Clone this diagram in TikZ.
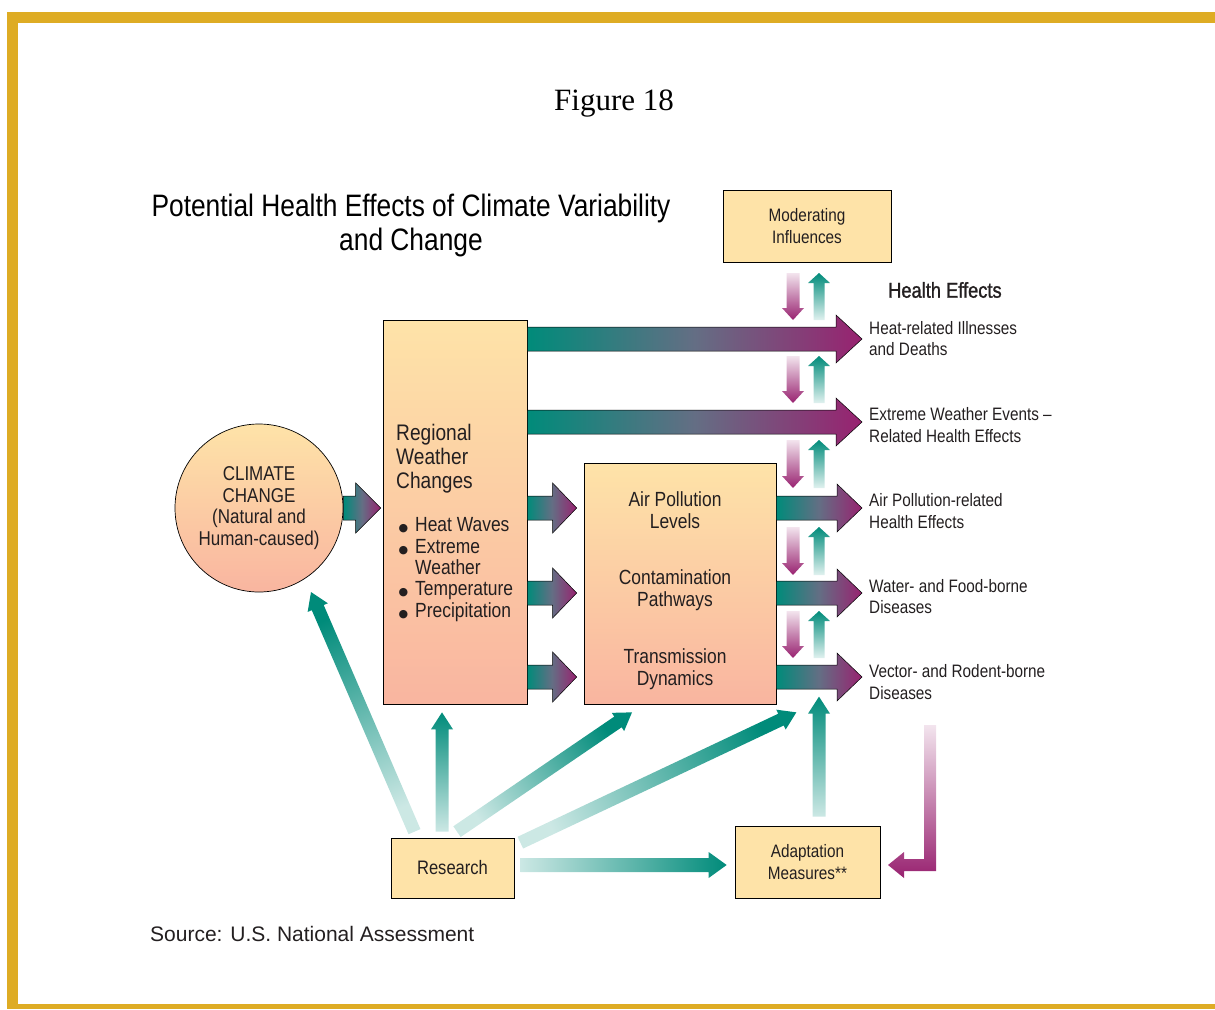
\documentclass[tikz,border=0pt]{standalone}
\usepackage{fontspec}
\setmainfont{Liberation Sans}
\newfontfamily\condsans[FakeStretch=0.85]{Liberation Sans}
\newfontfamily\condmedium[FakeStretch=0.85,FakeBold=1.2]{Liberation Sans}
\newfontfamily\capserif{Liberation Serif}
\newfontfamily\dotfont{DejaVu Sans}
\usetikzlibrary{calc,positioning}

\definecolor{framegold}{RGB}{222,172,36}
\definecolor{boxyellow}{RGB}{254,227,168}
\definecolor{boxsalmon}{RGB}{249,181,160}
\definecolor{arrowteal}{RGB}{0,139,122}
\definecolor{arrowplum}{RGB}{152,34,112}
\definecolor{flowslate}{RGB}{100,110,132}
\definecolor{textgrey}{RGB}{35,31,32}

% block arrow: [style]{tail}{tip}{half shaft}{head length}{half head}
\newcommand{\fatarrow}[6][]{%
  \coordinate (fa-a) at (#2);
  \coordinate (fa-b) at (#3);
  \coordinate (fa-c) at ($(fa-b)!#5!(fa-a)$);
  \path[#1] ($(fa-a)!#4!90:(fa-b)$) -- ($(fa-c)!#4!-90:(fa-a)$)
    -- ($(fa-c)!#6!-90:(fa-a)$) -- (fa-b) -- ($(fa-c)!#6!90:(fa-a)$)
    -- ($(fa-c)!#4!90:(fa-a)$) -- ($(fa-a)!#4!-90:(fa-b)$) -- cycle;
}
\newcommand{\listdot}{\makebox[17pt][l]{\hspace{0.5pt}\dotfont\fontsize{11}{0}\selectfont ●}}

\tikzset{
  tanbox/.style={draw=black, line width=0.7pt, fill=boxyellow, align=center, inner sep=0pt,
    text=textgrey, font=\condsans\fontsize{18}{21.5}\selectfont},
  peachbox/.style={draw=black, line width=0.7pt, top color=boxyellow, bottom color=boxsalmon, inner sep=0pt},
  midtext/.style={align=center, inner sep=0pt, text=textgrey, font=\condsans\fontsize{20.5}{22}\selectfont},
  effect/.style={anchor=west, align=left, inner sep=0pt, text=textgrey, font=\condsans\fontsize{18}{21.5}\selectfont},
  flow/.style={draw=black, line width=0.5pt, left color=arrowteal, right color=arrowplum, middle color=flowslate},
  feedup/.style={top color=arrowteal, bottom color=arrowteal!12},
  feeddown/.style={top color=arrowplum!12, bottom color=arrowplum},
  studyarrow/.style={top color=arrowteal, bottom color=arrowteal!20, shading angle=#1},
  studyarrow/.default=0
}

\begin{document}
\begin{tikzpicture}[x=1pt, y=-1pt]
  \useasboundingbox (0,0) rectangle (1215,1009);

  % gold frame
  \fill[framegold] (7,12) rectangle (18,1009);
  \fill[framegold] (7,12) rectangle (1215,23);
  \fill[framegold] (7,1004) rectangle (1215,1009);

  % titles
  \node (fig) at (614,104) {\capserif\fontsize{31}{34}\selectfont Figure 18};
  \node[align=center, font=\condsans\fontsize{31}{34}\selectfont] (title) at (411,225)
    {Potential Health Effects of Climate Variability\\and Change};

  % boxes
  \node[tanbox, minimum width=168pt, minimum height=72pt] (moder) at (807,226) {Moderating\\Influences};
  \node[peachbox, circle, minimum size=168pt, align=center, text=textgrey,
    font=\condsans\fontsize{20}{21.5}\selectfont] (climate) at (259,508)
    {CLIMATE\\CHANGE\\(Natural and\\Human-caused)};
  \node[peachbox, minimum width=144pt, minimum height=384pt] (rwc) at (455,512) {};
  \node[peachbox, minimum width=192pt, minimum height=241pt] (mid) at (680,583.5) {};
  \node[tanbox, font=\condsans\fontsize{19.5}{22}\selectfont, minimum width=123pt, minimum height=60pt]
    (research) at (452.5,868) {Research};
  \node[tanbox, minimum width=145pt, minimum height=72pt] (adapt) at (807.5,862) {Adaptation\\Measures**};

  % box texts
  \node[anchor=west, align=left, inner sep=0pt, text=textgrey, font=\condsans\fontsize{22.5}{24}\selectfont]
    (rwchead) at (396,459) {Regional\\Weather\\Changes};
  \node[anchor=west, align=left, inner sep=0pt, text=textgrey, font=\condsans\fontsize{20.5}{21.3}\selectfont]
    (rwclist) at (398,569.5) {\listdot Heat Waves\\
      \listdot Extreme\\
      \hspace*{17pt}Weather\\
      \listdot Temperature\\
      \listdot Precipitation};
  \node[midtext] (airlev) at (675,510) {Air Pollution\\Levels};
  \node[midtext] (contam) at (675,590) {Contamination\\Pathways};
  \node[midtext] (transm) at (675,669.5) {Transmission\\Dynamics};

  % health effects
  \node[anchor=west, inner sep=0pt, text=textgrey, font=\condmedium\fontsize{21.5}{23}\selectfont] (healthfx) at (888,290) {Health Effects};
  \node[effect] (heat) at (869,338.5) {Heat-related Illnesses\\and Deaths};
  \node[effect] (extreme) at (869,425) {Extreme Weather Events \textendash\\Related Health Effects};
  \node[effect] (airfx) at (869,511) {Air Pollution-related\\Health Effects};
  \node[effect] (water) at (869,596.5) {Water- and Food-borne\\Diseases};
  \node[effect] (vector) at (869,682) {Vector- and Rodent-borne\\Diseases};

  \node[anchor=west, inner sep=0pt, text=textgrey, font=\fontsize{21}{24}\selectfont] (source) at (150,934)
    {Source: U.S. National Assessment};

  % lanes of the flow arrows
  \coordinate (lane1) at (0,339);
  \coordinate (lane2) at (0,422);
  \coordinate (lane3) at (0,508);
  \coordinate (lane4) at (0,593);
  \coordinate (lane5) at (0,677);
  \coordinate (fxline) at (862,0);

  % flow arrows
  \fatarrow[flow]{climate.east}{$(rwc.west |- lane3)+(-2,0)$}{12pt}{25pt}{25pt}
  \fatarrow[flow]{rwc.east |- lane1}{fxline |- lane1}{12pt}{26pt}{24pt}
  \fatarrow[flow]{rwc.east |- lane2}{fxline |- lane2}{12pt}{26pt}{24pt}
  \foreach \k in {3,4,5} {
    \fatarrow[flow]{rwc.east |- lane\k}{$(mid.west |- lane\k)+(-7,0)$}{12pt}{24pt}{25pt}
    \fatarrow[flow]{mid.east |- lane\k}{fxline |- lane\k}{12pt}{25pt}{24pt}
  }

  % moderating influences between the effects
  \foreach \ytop/\ybot in {273/320, 356/403, 440/488, 527/575, 611/658} {
    \fatarrow[feeddown]{793,\ytop}{793,\ybot}{6.5pt}{12pt}{11pt}
    \fatarrow[feedup]{819,\ybot}{819,\ytop}{5.5pt}{10pt}{11pt}
  }

  % research feeds
  \coordinate (aimclim) at (311,592);
  \fatarrow[studyarrow=23.3]{$(research.north)+(-38,-6)$}{aimclim}{6.5pt}{17pt}{11pt}
  \fatarrow[studyarrow]{$(research.north)+(-10.5,-6)$}{$(rwc.south)+(-13,8)$}{6.5pt}{17pt}{11pt}
  \fatarrow[studyarrow=-55.6]{$(research.north)+(4.5,-6)$}{$(mid.south)+(-48,8)$}{6.5pt}{17pt}{11pt}
  \fatarrow[studyarrow=-64.6]{$(research.north east)+(6,5)$}{$(mid.south east)+(20,8)$}{6.5pt}{17pt}{11pt}
  \fatarrow[studyarrow=-90]{$(research.east)+(6,-3)$}{$(adapt.west)+(-8,3)$}{7pt}{18pt}{13pt}
  \fatarrow[studyarrow]{$(adapt.north)+(11.5,-9)$}{$(adapt.north)+(11.5,-129)$}{6.5pt}{17pt}{11pt}

  % feedback from the effects to adaptation
  \coordinate (dropstart) at (930,725);
  \coordinate (droptip) at (888,865);
  \shade[feeddown] ($(dropstart)+(6,0)$) -- ($(dropstart |- droptip)+(6,6)$) -- ($(droptip)+(16,6)$)
    -- ($(droptip)+(16,13)$) -- (droptip) -- ($(droptip)+(16,-13)$) -- ($(droptip)+(16,-6)$)
    -- ($(dropstart |- droptip)+(-6,-6)$) -- ($(dropstart)+(-6,0)$) -- cycle;
\end{tikzpicture}
\end{document}
